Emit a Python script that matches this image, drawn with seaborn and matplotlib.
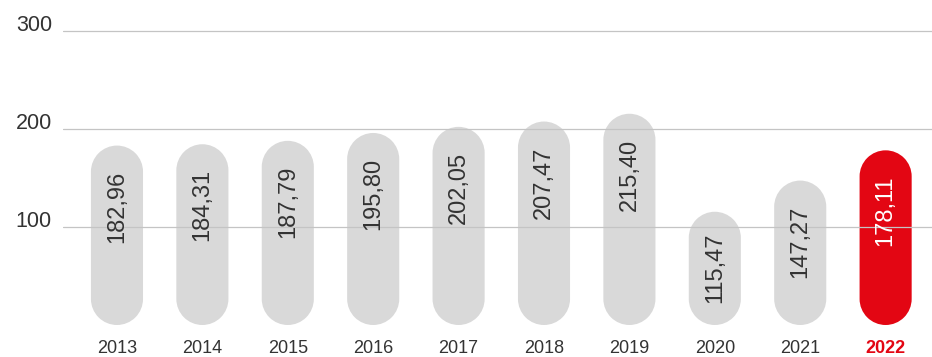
import matplotlib
matplotlib.use("Agg")
import matplotlib.pyplot as plt
from matplotlib.patches import PathPatch
from matplotlib.path import Path
from matplotlib.transforms import Affine2D
import numpy as np
import seaborn as sns
import pandas as pd

# Annual values, 2013-2022
years = ["2013", "2014", "2015", "2016", "2017", "2018", "2019", "2020", "2021", "2022"]
values = [182.96, 184.31, 187.79, 195.80, 202.05, 207.47, 215.40, 115.47, 147.27, 178.11]
y_ticks = [100, 200, 300]
y_tick_labels = ["100", "200", "300"]

GREY = "#d9d9d9"
RED = "#e30613"
TEXT = "#333333"

sns.set_theme(style="white")
plt.rcParams["font.family"] = ["Liberation Sans", "DejaVu Sans"]

df = pd.DataFrame({"year": years, "value": values})
colors = [GREY] * (len(years) - 1) + [RED]

fig = plt.figure(figsize=(9.32, 3.57), dpi=100)
W, H = 932, 357
ax = fig.add_axes([63 / W, (H - 325) / H, 1 - 63 / W, (325 - 20) / H])

bar_w = 0.61
sns.barplot(data=df, x="year", y="value", hue="year", palette=colors,
            legend=False, width=bar_w, ax=ax, saturation=1)

ax.set_xlim(-0.632, 9.543)
ax.set_ylim(0, 311)

fig.canvas.draw()
p0 = ax.transData.transform((0, 0))
p1 = ax.transData.transform((1, 1))
px_per_x = p1[0] - p0[0]
px_per_y = p1[1] - p0[1]
aspect = px_per_x / px_per_y


def pill_path(x, w, h):
    """Closed outline of a bar with semicircular ends, in data units."""
    rx = w / 2
    ry = rx * aspect
    cx = x + rx
    bottom = Path.arc(180, 360)
    top = Path.arc(0, 180)
    vb = Affine2D().scale(rx, ry).translate(cx, ry).transform(bottom.vertices)
    vt = Affine2D().scale(rx, ry).translate(cx, h - ry).transform(top.vertices)
    cb = bottom.codes.copy()
    ct = top.codes.copy()
    ct[0] = Path.LINETO
    verts = np.vstack([vb, vt, vb[:1]])
    codes = np.concatenate([cb, ct, [Path.CLOSEPOLY]])
    return Path(verts, codes)


# Replace each rectangular bar by a rounded pill of the same size
bars = list(ax.patches)
for bar in bars:
    x, w, h = bar.get_x(), bar.get_width(), bar.get_height()
    fc = bar.get_facecolor()
    bar.remove()
    ax.add_patch(PathPatch(pill_path(x, w, h), facecolor=fc,
                           edgecolor="none", zorder=1))

# Value labels written vertically inside each pill
for i, v in enumerate(values):
    label = f"{v:.2f}".replace(".", ",")
    col = "white" if i == len(values) - 1 else TEXT
    bar_px = v * px_per_y
    if bar_px > 128:
        ax.annotate(label, xy=(i, v), xytext=(0, -25 * 0.72),
                    textcoords="offset points", rotation=90,
                    ha="center", va="top", fontsize=17, color=col, zorder=3)
    else:
        ax.annotate(label, xy=(i, 0), xytext=(0, 22 * 0.72),
                    textcoords="offset points", rotation=90,
                    ha="center", va="bottom", fontsize=17, color=col, zorder=3)

# Grid and axes styling
ax.set_yticks(y_ticks)
ax.set_yticklabels(y_tick_labels)
ax.set_axisbelow(False)
ax.yaxis.grid(True, color="#c4c4c4", linewidth=0.9)
ax.xaxis.grid(False)
for s in ax.spines.values():
    s.set_visible(False)
ax.tick_params(axis="y", length=0, pad=8, labelsize=15.5, labelcolor=TEXT)
ax.tick_params(axis="x", length=0, pad=11, labelsize=13, labelcolor=TEXT)
for t in ax.get_yticklabels():
    t.set_va("baseline")
xt = ax.get_xticklabels()
xt[-1].set_color(RED)
xt[-1].set_fontweight("bold")
ax.set_xlabel("")
ax.set_ylabel("")

fig.savefig("out.png", dpi=100)
